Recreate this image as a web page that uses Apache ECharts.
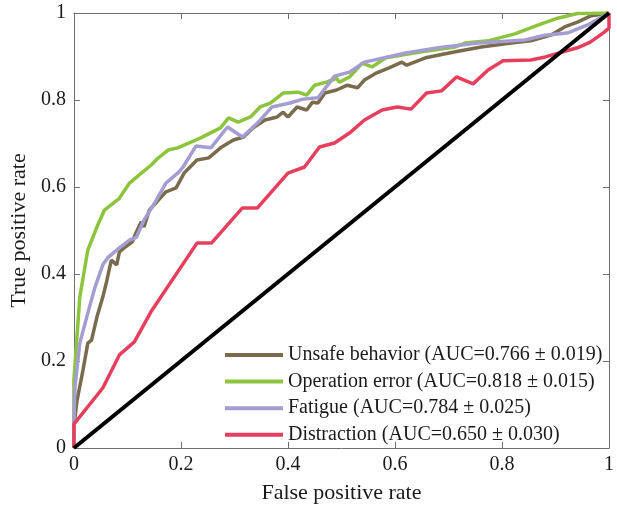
<!DOCTYPE html>
<html><head><meta charset="utf-8">
<script src="https://cdn.jsdelivr.net/npm/echarts@6/dist/echarts.min.js"></script>
<style>html,body{margin:0;padding:0;background:#fff}#c{width:617px;height:510px}</style>
</head><body><div id="c"></div>
<script>
const seriesNames = [
  'Unsafe behavior (AUC=0.766 \u00b1 0.019)',
  'Operation error (AUC=0.818 \u00b1 0.015)',
  'Fatigue (AUC=0.784 \u00b1 0.025)',
  'Distraction (AUC=0.650 \u00b1 0.030)'
];
const tickLabels = ['0','0.2','0.4','0.6','0.8','1'];

const unsafeX = [0,0,0.006,0.017,0.026,0.033,0.043,0.054,0.061,0.067,0.07,0.08,0.085,0.094,0.109,0.117,0.126,0.131,0.141,0.155,0.172,0.191,0.206,0.23,0.252,0.274,0.298,0.317,0.335,0.357,0.38,0.391,0.4,0.417,0.435,0.446,0.456,0.469,0.491,0.511,0.53,0.543,0.565,0.589,0.613,0.622,0.657,0.713,0.761,0.817,0.854,0.891,0.917,0.941,0.965,1];
const unsafeY = [0,0.05,0.11,0.179,0.241,0.248,0.301,0.347,0.382,0.416,0.432,0.421,0.451,0.46,0.474,0.497,0.52,0.508,0.547,0.566,0.589,0.598,0.632,0.662,0.667,0.69,0.708,0.715,0.736,0.754,0.761,0.772,0.761,0.784,0.777,0.795,0.793,0.816,0.823,0.834,0.828,0.846,0.862,0.874,0.887,0.88,0.897,0.911,0.922,0.931,0.936,0.949,0.968,0.979,0.993,1];

const operX = [0,0,0.011,0.026,0.043,0.057,0.085,0.104,0.126,0.144,0.155,0.176,0.194,0.237,0.274,0.289,0.307,0.33,0.348,0.367,0.391,0.419,0.435,0.45,0.472,0.491,0.496,0.515,0.539,0.557,0.583,0.65,0.713,0.731,0.774,0.824,0.867,0.904,0.941,1];
const operY = [0,0.156,0.347,0.455,0.508,0.547,0.574,0.609,0.632,0.65,0.664,0.685,0.69,0.713,0.736,0.759,0.749,0.761,0.784,0.793,0.816,0.818,0.811,0.834,0.841,0.85,0.841,0.853,0.885,0.876,0.897,0.911,0.922,0.931,0.936,0.952,0.972,0.988,0.999,1];

const fatigueX = [0,0,0.002,0.011,0.026,0.039,0.054,0.063,0.085,0.104,0.117,0.131,0.154,0.172,0.196,0.204,0.228,0.256,0.287,0.315,0.343,0.37,0.404,0.428,0.456,0.487,0.515,0.543,0.62,0.681,0.756,0.843,0.88,0.922,0.959,1];
const fatigueY = [0,0.057,0.14,0.241,0.31,0.368,0.421,0.437,0.46,0.478,0.485,0.524,0.57,0.609,0.634,0.646,0.694,0.69,0.738,0.715,0.747,0.784,0.793,0.802,0.805,0.855,0.864,0.887,0.908,0.92,0.931,0.938,0.949,0.954,0.972,1];

const distrX = [0,0,0.054,0.085,0.113,0.144,0.23,0.257,0.315,0.343,0.4,0.431,0.459,0.487,0.515,0.543,0.576,0.604,0.63,0.659,0.687,0.715,0.746,0.774,0.802,0.854,0.881,0.941,0.965,0.99,1,1];
const distrY = [0,0.055,0.138,0.214,0.244,0.313,0.471,0.471,0.552,0.552,0.632,0.646,0.692,0.701,0.724,0.754,0.777,0.784,0.779,0.816,0.821,0.853,0.837,0.869,0.89,0.892,0.899,0.92,0.933,0.955,0.965,1];

const chanceX = [0,1];
const chanceY = [0,1];

const colors = ['#7a6b4c','#8cc43e','#a49dd2','#e63f5d'];
const FONT = '"Liberation Serif","Times New Roman",serif';

function pairs(xs, ys){ return xs.map((x,i)=>[x, ys[i]]); }

const axisCommon = {
  type:'value', min:0, max:1, interval:0.2,
  axisLine:{show:true, onZero:false, lineStyle:{color:'#6e6e6e', width:1}},
  axisTick:{show:true, inside:true, length:6, lineStyle:{color:'#6e6e6e'}},
  splitLine:{show:false}
};
const labelFmt = v => tickLabels[Math.round(v*5)];

const chart = echarts.init(document.getElementById('c'), null, {renderer:'canvas'});
chart.setOption({
  animation:false,
  backgroundColor:'#fff',
  grid:{left:72, right:4, top:13, bottom:62},
  xAxis:[
    Object.assign({}, axisCommon, {position:'bottom',
      name:'False positive rate', nameLocation:'middle', nameGap:34,
      nameTextStyle:{fontFamily:FONT, fontSize:22, color:'#1a1a1a'},
      axisLabel:{fontFamily:FONT, fontSize:20, color:'#1a1a1a', margin:7, formatter:labelFmt}}),
    Object.assign({}, axisCommon, {position:'top', axisLabel:{show:false}})
  ],
  yAxis:[
    Object.assign({}, axisCommon, {position:'left',
      name:'True positive rate', nameLocation:'middle', nameGap:40,
      nameTextStyle:{fontFamily:FONT, fontSize:22, color:'#1a1a1a'},
      axisLabel:{fontFamily:FONT, fontSize:20, color:'#1a1a1a', margin:8, formatter:labelFmt}}),
    Object.assign({}, axisCommon, {position:'right', axisLabel:{show:false}})
  ],
  legend:{
    data:seriesNames, orient:'vertical', left:225, top:344,
    icon:'rect', itemWidth:58, itemHeight:4, itemGap:4.6,
    textStyle:{fontFamily:FONT, fontSize:20, color:'#1a1a1a', lineHeight:22, padding:[0,0,0,0]},
    padding:0
  },
  series:[
    {name:seriesNames[0], type:'line', showSymbol:false, data:pairs(unsafeX,unsafeY), lineStyle:{color:colors[0], width:3.5}, itemStyle:{color:colors[0]}},
    {name:seriesNames[1], type:'line', showSymbol:false, data:pairs(operX,operY), lineStyle:{color:colors[1], width:3.5}, itemStyle:{color:colors[1]}},
    {name:seriesNames[2], type:'line', showSymbol:false, data:pairs(fatigueX,fatigueY), lineStyle:{color:colors[2], width:3.5}, itemStyle:{color:colors[2]}},
    {name:seriesNames[3], type:'line', showSymbol:false, data:pairs(distrX,distrY), lineStyle:{color:colors[3], width:3.5}, itemStyle:{color:colors[3]}},
    {name:'chance', type:'line', showSymbol:false, data:pairs(chanceX,chanceY), lineStyle:{color:'#000', width:4}, itemStyle:{color:'#000'}}
  ]
});
</script></body></html>
